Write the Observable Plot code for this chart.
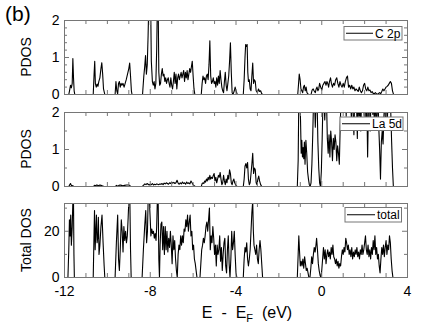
<!DOCTYPE html>
<html><head><meta charset="utf-8">
<script src="https://cdn.jsdelivr.net/npm/d3@7"></script>
<script src="https://cdn.jsdelivr.net/npm/@observablehq/plot@0.6"></script>
<style>
body{margin:0;background:#fff;}
#chart{width:436px;height:332px;font-family:"Liberation Sans",Arial,Helvetica,sans-serif;}
#chart svg{display:block;}
</style></head><body><div id="chart"></div>
<script>
// ---- data: [E - E_F (eV), DOS] ----
const c2p = [[-12,0],[-11.8,0],[-11.76,0.12],[-11.72,0.25],[-11.68,0.18],[-11.64,0.3],[-11.61,0.97],[-11.58,0.45],[-11.55,0.1],[-11.52,0],
[-10.66,0],[-10.62,0.55],[-10.59,0.9],[-10.56,0.3],[-10.52,0.2],[-10.48,0.28],[-10.44,0.22],[-10.4,0.35],[-10.35,0.45],[-10.3,0.7],[-10.26,0.86],[-10.22,0.55],[-10.18,0.15],[-10.12,0],
[-9.64,0],[-9.6,0.35],[-9.56,0.1],[-9.52,0.02],[-9.48,0.3],[-9.44,0.35],[-9.4,0.2],[-9.36,0.3],[-9.32,0.25],[-9.27,0.3],[-9.22,0.2],[-9.17,0.3],[-9.12,0.4],[-9.06,0.55],[-9.0,0.7],[-8.96,0.85],[-8.92,0.5],[-8.88,0.1],[-8.85,0],
[-8.36,0],[-8.3,0.5],[-8.26,0.75],[-8.22,1.05],[-8.18,0.55],[-8.14,0.8],[-8.1,1.6],[-8.07,2.4],[-8.02,2.4],[-7.98,2.4],[-7.95,0.9],[-7.9,0.35],[-7.86,0.25],[-7.82,0.35],[-7.78,0.15],[-7.74,0.3],[-7.7,1.2],[-7.67,2.4],[-7.63,2.4],[-7.6,0.6],[-7.56,0.25],[-7.52,0.3],[-7.48,0.55],[-7.44,0.7],[-7.4,0.5],[-7.36,0.55],[-7.32,0.35],[-7.28,0.45],[-7.24,0.3],[-7.2,0.4],[-7.16,0.45],[-7.12,0.3],[-7.08,0.2],[-7.04,0.45],[-7.0,0.25],[-6.96,0.15],[-6.92,0.35],[-6.88,0.6],[-6.84,0.3],[-6.8,0.55],[-6.76,0.15],[-6.72,0.45],[-6.68,0.55],[-6.64,0.4],[-6.6,0.5],[-6.56,0.6],[-6.52,0.45],[-6.48,0.55],[-6.44,0.65],[-6.4,0.35],[-6.36,0.6],[-6.32,0.45],[-6.28,0.65],[-6.24,0.4],[-6.2,0.55],[-6.16,0.7],[-6.12,0.6],[-6.08,0.75],[-6.04,0.9],[-6.0,0.5],[-5.96,0.15],[-5.92,0],
[-5.62,0],[-5.58,0.3],[-5.54,0.5],[-5.5,0.4],[-5.46,0.45],[-5.42,0.3],[-5.38,0.5],[-5.34,0.55],[-5.3,0.4],[-5.26,0.8],[-5.22,1.45],[-5.18,0.5],[-5.14,0.3],[-5.1,0.35],[-5.06,0.45],[-5.02,0.3],[-4.98,0.35],[-4.94,0.2],[-4.9,0.45],[-4.86,0.25],[-4.82,0.5],[-4.78,0.3],[-4.74,0.65],[-4.7,0.4],[-4.66,0.2],[-4.62,0.1],[-4.58,0.05],[-4.54,0.35],[-4.5,0.6],[-4.46,0.25],[-4.42,0.1],[-4.38,0.3],[-4.34,0.5],[-4.3,0.9],[-4.26,1.4],[-4.22,0.6],[-4.18,0.05],[-4.14,0],[-4.08,0.1],[-4.04,0.2],[-4.0,0.1],[-3.94,0],
[-3.66,0],[-3.62,0.4],[-3.58,1.0],[-3.55,1.35],[-3.52,1.3],[-3.48,1.35],[-3.45,0.6],[-3.42,0.35],[-3.38,0.4],[-3.34,0.15],[-3.3,0.1],[-3.26,0.5],[-3.22,0.85],[-3.18,0.3],[-3.14,0.4],[-3.1,0.35],[-3.06,0.1],[-3.0,0.05],[-2.95,0.15],[-2.9,0.08],[-2.85,0.1],[-2.8,0.02],[-2.75,0],
[-1.12,0],[-1.08,0.3],[-1.05,0.55],[-1.01,0.4],[-0.97,0.15],[-0.93,0.1],[-0.89,0.05],[-0.85,0.2],[-0.81,0.25],[-0.77,0.1],[-0.73,0.2],[-0.69,0.05],[-0.62,0],[-0.5,0],[-0.45,0.12],[-0.4,0.15],[-0.36,0.1],[-0.3,0.05],[-0.26,0.15],[-0.22,0.2],[-0.18,0.1],[-0.14,0.15],[-0.1,0.3],[-0.05,0.2],[0,0.12],[0.05,0.25],[0.1,0.3],[0.15,0.35],[0.2,0.25],[0.24,0.35],[0.28,0.3],[0.32,0.2],[0.36,0.35],[0.41,0.45],[0.45,0.3],[0.5,0.2],[0.55,0.3],[0.6,0.25],[0.65,0.4],[0.7,0.45],[0.75,0.3],[0.8,0.2],[0.85,0.35],[0.9,0.25],[0.95,0.2],[1.0,0.3],[1.05,0.2],[1.1,0.35],[1.15,0.45],[1.2,0.5],[1.25,0.2],[1.3,0.25],[1.35,0.15],[1.4,0.25],[1.45,0.15],[1.5,0.2],[1.55,0.1],[1.6,0.15],[1.65,0.12],[1.7,0.08],[1.75,0.2],[1.8,0.1],[1.85,0.05],[1.9,0.1],[1.95,0.25],[2.0,0.3],[2.05,0.15],[2.1,0.1],[2.15,0.2],[2.2,0.1],[2.25,0.12],[2.3,0.05],[2.35,0.08],[2.4,0.03],[2.45,0.02],[2.5,0.05],[2.55,0.02],[2.6,0.0],[2.65,0.03],[2.7,0.05],[2.75,0.02],[2.8,0.08],[2.85,0.15],[2.9,0.1],[2.95,0.15],[3.0,0.2],[3.05,0.22],[3.1,0.25],[3.15,0.3],[3.2,0.35],[3.25,0.3],[3.3,0.1],[3.35,0],[4,0]];

const la5d = [[-12,0],[-11.8,0],[-11.75,0.05],[-11.72,0.08],[-11.68,0.03],[-11.62,0.02],[-11.55,0],
[-10.65,0],[-10.6,0.03],[-10.55,0.02],[-10.5,0.04],[-10.45,0.03],[-10.4,0.02],[-10.35,0.04],[-10.3,0.03],[-10.25,0.02],[-10.15,0],
[-9.62,0],[-9.58,0.03],[-9.52,0.01],[-9.46,0.03],[-9.4,0.04],[-9.34,0.03],[-9.28,0.02],[-9.2,0.03],[-9.1,0.04],[-9.0,0.04],[-8.9,0],
[-8.38,0],[-8.32,0.03],[-8.25,0.07],[-8.2,0.05],[-8.15,0.08],[-8.1,0.06],[-8.05,0.04],[-8.0,0.06],[-7.95,0.05],[-7.9,0.08],[-7.85,0.04],[-7.8,0.06],[-7.75,0.05],[-7.7,0.07],[-7.65,0.06],[-7.6,0.05],[-7.55,0.07],[-7.5,0.06],[-7.45,0.08],[-7.4,0.05],[-7.35,0.09],[-7.3,0.07],[-7.25,0.1],[-7.2,0.08],[-7.15,0.06],[-7.1,0.1],[-7.05,0.08],[-7.0,0.12],[-6.95,0.09],[-6.9,0.11],[-6.85,0.08],[-6.8,0.1],[-6.75,0.17],[-6.7,0.09],[-6.65,0.06],[-6.6,0.1],[-6.55,0.07],[-6.5,0.12],[-6.45,0.08],[-6.4,0.1],[-6.35,0.06],[-6.3,0.12],[-6.25,0.08],[-6.2,0.1],[-6.15,0.07],[-6.1,0.15],[-6.05,0.1],[-6.0,0.05],[-5.95,0.02],[-5.9,0],
[-5.62,0],[-5.58,0.08],[-5.54,0.1],[-5.5,0.08],[-5.46,0.15],[-5.42,0.12],[-5.38,0.2],[-5.34,0.15],[-5.3,0.25],[-5.26,0.18],[-5.22,0.3],[-5.18,0.2],[-5.14,0.25],[-5.1,0.22],[-5.06,0.3],[-5.02,0.35],[-4.98,0.15],[-4.94,0.25],[-4.9,0.1],[-4.86,0.2],[-4.82,0.3],[-4.78,0.25],[-4.74,0.38],[-4.7,0.2],[-4.66,0.05],[-4.62,0.1],[-4.58,0.3],[-4.54,0.15],[-4.5,0.05],[-4.46,0.2],[-4.42,0.1],[-4.38,0.3],[-4.34,0.2],[-4.3,0.45],[-4.26,0.35],[-4.22,0.1],[-4.18,0.05],[-4.14,0.15],[-4.1,0.2],[-4.06,0.1],[-4.0,0.03],[-3.95,0],
[-3.66,0],[-3.62,0.2],[-3.58,0.55],[-3.54,0.62],[-3.5,0.5],[-3.46,0.65],[-3.42,0.2],[-3.38,0.05],[-3.34,0.1],[-3.3,0.35],[-3.26,0.6],[-3.22,0.9],[-3.18,0.35],[-3.14,0.5],[-3.1,0.45],[-3.06,0.1],[-3.02,0.05],[-2.98,0.2],[-2.94,0.28],[-2.9,0.15],[-2.85,0.05],[-2.8,0],
[-1.14,0],[-1.1,0.7],[-1.07,2.4],[-1.02,2.4],[-0.99,1.8],[-0.96,0.9],[-0.93,1.25],[-0.9,0.8],[-0.87,1.05],[-0.84,0.75],[-0.81,1.2],[-0.78,0.6],[-0.74,1.25],[-0.7,0.9],[-0.66,0.4],[-0.62,0.2],[-0.58,0.05],[-0.54,0],[-0.5,0.1],[-0.46,0.6],[-0.42,1.4],[-0.38,2.4],[-0.34,2.4],[-0.3,1.6],[-0.26,2.4],[-0.22,2.4],[-0.18,1.2],[-0.14,0.5],[-0.1,0.1],[-0.06,0],[-0.02,0.4],[0.02,1.3],[0.06,2.4],[0.1,2.4],[0.14,1.8],[0.18,2.4],[0.22,2.4],[0.26,1.3],[0.3,0.9],[0.34,1.4],[0.38,0.8],[0.42,1.5],[0.46,1.2],[0.5,0.7],[0.54,1.3],[0.58,1.0],[0.62,1.4],[0.66,1.2],[0.7,0.7],[0.74,1.1],[0.78,0.9],[0.82,0.6],[0.86,1.6],[0.9,2.4],[0.94,2.5],[0.98,2.1],[1.02,2.5],[1.06,2.2],[1.1,2.6],[1.14,1.9],[1.18,2.5],[1.22,2.3],[1.26,2.6],[1.3,2.0],[1.34,2.5],[1.38,1.85],[1.42,2.4],[1.46,2.0],[1.5,1.4],[1.54,2.5],[1.58,2.1],[1.62,2.3],[1.66,1.3],[1.7,2.5],[1.74,1.9],[1.78,2.2],[1.82,1.5],[1.86,2.4],[1.9,2.0],[1.94,2.3],[1.98,1.9],[2.02,2.5],[2.06,1.8],[2.1,2.4],[2.14,0.8],[2.18,2.2],[2.22,2.5],[2.26,1.5],[2.3,2.4],[2.34,2.6],[2.38,1.95],[2.42,2.3],[2.46,1.6],[2.5,2.4],[2.54,1.8],[2.58,1.9],[2.62,2.5],[2.66,1.6],[2.7,1.0],[2.74,0.2],[2.78,1.2],[2.82,1.5],[2.86,1.15],[2.9,1.9],[2.94,2.4],[2.98,1.7],[3.02,2.5],[3.06,1.8],[3.1,2.4],[3.14,2.2],[3.18,2.5],[3.22,2.0],[3.26,1.2],[3.3,0.5],[3.34,0],[4,0]];

const total = [[-12,0],[-11.84,0],[-11.8,12],[-11.77,25],[-11.74,18],[-11.71,27],[-11.68,14],[-11.64,22],[-11.61,33],[-11.58,33],[-11.56,10],[-11.54,0],
[-10.66,0],[-10.62,20],[-10.6,29],[-10.57,12],[-10.54,20],[-10.51,27],[-10.48,15],[-10.44,18],[-10.42,26],[-10.39,10],[-10.35,14],[-10.3,22],[-10.25,27],[-10.2,15],[-10.15,5],[-10.12,0],
[-9.64,0],[-9.58,15],[-9.52,27],[-9.48,8],[-9.44,3],[-9.4,12],[-9.35,25],[-9.31,20],[-9.27,11],[-9.23,22],[-9.19,16],[-9.15,20],[-9.11,15],[-9.07,18],[-9.03,26],[-9.0,33],[-8.95,33],[-8.92,12],[-8.89,0],
[-8.38,0],[-8.32,12],[-8.26,22],[-8.21,29],[-8.17,15],[-8.13,20],[-8.1,33],[-8.04,33],[-8.0,25],[-7.97,18],[-7.93,21],[-7.89,19],[-7.85,20],[-7.81,17],[-7.77,19],[-7.73,16],[-7.7,22],[-7.67,33],[-7.63,33],[-7.6,8],[-7.57,0],[-7.54,14],[-7.5,23],[-7.46,24],[-7.42,12],[-7.38,22],[-7.34,10],[-7.3,22],[-7.26,12],[-7.22,20],[-7.18,11],[-7.14,17],[-7.1,13],[-7.06,20],[-7.02,14],[-6.98,6],[-6.94,18],[-6.9,12],[-6.86,16],[-6.82,8],[-6.78,3],[-6.74,0],[-6.7,10],[-6.66,14],[-6.62,12],[-6.58,18],[-6.54,14],[-6.5,18],[-6.46,15],[-6.42,21],[-6.38,20],[-6.34,25],[-6.3,22],[-6.26,27],[-6.22,20],[-6.18,24],[-6.14,27],[-6.1,18],[-6.06,20],[-6.02,12],[-5.98,14],[-5.94,8],[-5.9,6],[-5.86,3],[-5.82,0],
[-5.68,0],[-5.64,6],[-5.6,12],[-5.56,14],[-5.52,17],[-5.48,15],[-5.44,18],[-5.4,22],[-5.36,24],[-5.32,20],[-5.28,25],[-5.24,30],[-5.2,12],[-5.16,18],[-5.12,15],[-5.08,22],[-5.04,17],[-5.0,10],[-4.96,14],[-4.92,5],[-4.88,14],[-4.84,10],[-4.8,12],[-4.76,18],[-4.72,7],[-4.68,13],[-4.64,3],[-4.6,10],[-4.56,15],[-4.52,17],[-4.48,5],[-4.44,2],[-4.4,12],[-4.36,18],[-4.32,6],[-4.28,0],[-4.24,8],[-4.2,20],[-4.16,12],[-4.12,15],[-4.08,20],[-4.04,10],[-4.0,2],[-3.96,0],
[-3.66,0],[-3.62,8],[-3.58,13],[-3.54,11],[-3.5,15],[-3.46,8],[-3.42,5],[-3.38,8],[-3.34,12],[-3.3,20],[-3.26,28],[-3.22,33],[-3.19,20],[-3.16,14],[-3.12,12],[-3.08,10],[-3.04,14],[-3.0,8],[-2.96,6],[-2.92,12],[-2.88,16],[-2.84,12],[-2.8,6],[-2.76,0],
[-1.14,0],[-1.1,10],[-1.07,18],[-1.04,12],[-1.0,5],[-0.96,7],[-0.92,5],[-0.88,8],[-0.84,4],[-0.8,9],[-0.76,6],[-0.72,3],[-0.68,4],[-0.64,2],[-0.6,0],[-0.55,0],[-0.51,4],[-0.47,9],[-0.43,6],[-0.39,10],[-0.35,13],[-0.31,11],[-0.27,14],[-0.24,17],[-0.2,12],[-0.16,6],[-0.12,3],[-0.08,1],[-0.04,0],[0.0,3],[0.04,8],[0.08,13],[0.12,8],[0.16,12],[0.2,6],[0.24,10],[0.28,12],[0.32,9],[0.36,11],[0.4,8],[0.44,13],[0.48,10],[0.52,14],[0.56,9],[0.6,8],[0.64,6],[0.68,8],[0.72,5],[0.76,7],[0.8,4],[0.84,6],[0.88,5],[0.92,9],[0.96,12],[1.0,10],[1.04,13],[1.08,11],[1.12,17],[1.16,15],[1.2,12],[1.24,14],[1.28,10],[1.32,12],[1.36,9],[1.4,13],[1.44,8],[1.48,11],[1.52,9],[1.56,12],[1.6,10],[1.64,13],[1.68,9],[1.72,11],[1.76,8],[1.8,12],[1.84,10],[1.88,14],[1.92,10],[1.96,12],[2.0,15],[2.04,18],[2.08,12],[2.12,10],[2.16,14],[2.2,9],[2.24,12],[2.28,8],[2.32,13],[2.36,10],[2.4,16],[2.44,12],[2.48,18],[2.52,10],[2.56,13],[2.6,8],[2.64,10],[2.68,5],[2.72,2],[2.76,8],[2.8,13],[2.84,10],[2.88,14],[2.92,9],[2.96,13],[3.0,16],[3.04,10],[3.08,14],[3.12,12],[3.16,18],[3.2,15],[3.24,8],[3.28,3],[3.32,0],[4,0]];

const xDomain = [-12, 4];
const xLabelTicks = [-12, -8, -4, 0, 4];
const xMinorTicks = [-11, -10, -9, -7, -6, -5, -3, -2, -1, 1, 2, 3];
const pdosLabelTicks = [0, 1, 2];
const c2pMinorTicks = [0.2, 0.4, 0.6, 0.8, 1.2, 1.4, 1.6, 1.8];
const la5dMinorTicks = [0.5, 1.5];
const totalLabelTicks = [0, 20];
const totalMinorTicks = [10, 30];
const seriesNames = ["C 2p", "La 5d", "total"];
const yTitles = ["PDOS", "PDOS", "Total DOS"];
const panelTag = "(b)";

// ---- layout ----
const W = 436, ML = 64, MR = 29;
const FRAME = "#767676";
const FONT = "'Liberation Sans', Arial, Helvetica, sans-serif";

function panel(opts) {
  const {data, yDomain, yLabels, yMinor, yTitle, name, height, mt, mb, showX, legendBox} = opts;
  const fh = height - mt - mb, fw = W - ML - MR;
  const marks = [
    Plot.line(data, {x: d => d[0], y: d => d[1], stroke: "#000", strokeWidth: 1.1, clip: true}),
    Plot.frame({stroke: FRAME, strokeWidth: 1}),
    Plot.tickX(xLabelTicks, {x: d => d, insetTop: fh - 5, stroke: FRAME}),
    Plot.tickX(xMinorTicks, {x: d => d, insetTop: fh - 4, stroke: FRAME}),
    Plot.tickX(xLabelTicks, {x: d => d, insetBottom: fh - 5, stroke: FRAME}),
    Plot.tickX(xMinorTicks, {x: d => d, insetBottom: fh - 4, stroke: FRAME}),
    Plot.tickY(yLabels, {y: d => d, insetRight: fw - 5, stroke: FRAME}),
    Plot.tickY(yMinor, {y: d => d, insetRight: fw - 3, stroke: FRAME}),
    Plot.tickY(yLabels, {y: d => d, insetLeft: fw - 5, stroke: FRAME}),
    Plot.tickY(yMinor, {y: d => d, insetLeft: fw - 3, stroke: FRAME}),
    Plot.axisY({ticks: yLabels, tickSize: 0, tickPadding: 5, label: null, fontSize: 14, tickFormat: d => String(d)})
  ];
  if (showX) {
    marks.push(Plot.axisX({ticks: xLabelTicks, tickSize: 0, tickPadding: 9, label: null, fontSize: 14,
      tickFormat: d => d < 0 ? "-" + Math.abs(d) : String(d)}));
  } else {
    marks.push(Plot.axisX({ticks: [], label: null, tickSize: 0}));
  }
  const svg = Plot.plot({
    width: W, height, marginLeft: ML, marginRight: MR, marginTop: mt, marginBottom: mb,
    style: {fontFamily: FONT, fontSize: "14px", color: "#000", background: "#fff", overflow: "visible"},
    x: {domain: xDomain, axis: null},
    y: {domain: yDomain, axis: null},
    marks
  });
  const s = d3.select(svg);
  // y title, rotated
  s.append("text").attr("transform", `translate(30.5,${mt + fh / 2}) rotate(-90)`)
    .attr("text-anchor", "middle").attr("font-size", 14).attr("font-family", FONT).attr("fill", "#000").text(yTitle);
  // legend
  const g = s.append("g");
  const b = legendBox;
  g.append("rect").attr("x", b.x).attr("y", b.y).attr("width", b.w).attr("height", b.h)
    .attr("fill", "#fff").attr("stroke", FRAME).attr("stroke-width", 1);
  g.append("line").attr("x1", b.x + 2).attr("x2", b.x + 2 + b.lw).attr("y1", b.y + b.h / 2).attr("y2", b.y + b.h / 2)
    .attr("stroke", "#000").attr("stroke-width", 1);
  g.append("text").attr("x", b.x + b.lw + 4).attr("y", b.y + b.h / 2 + 4.3).attr("text-anchor", "start")
    .attr("font-size", 12).attr("font-family", FONT).attr("fill", "#000").text(name);
  return svg;
}

const root = document.getElementById("chart");

const p1 = panel({
  data: c2p, yDomain: [0, 2], yLabels: pdosLabelTicks, yMinor: c2pMinorTicks, yTitle: yTitles[0], name: seriesNames[0],
  height: 103, mt: 20, mb: 9, showX: false,
  legendBox: {x: 344, y: 26.5, w: 58, h: 13.5, lw: 27}
});
d3.select(p1).append("text").attr("x", 5).attr("y", 20.5).attr("text-anchor", "start")
  .attr("font-size", 21).attr("font-family", FONT).attr("fill", "#000").text(panelTag);
root.appendChild(p1);
root.appendChild(panel({
  data: la5d, yDomain: [0, 2], yLabels: pdosLabelTicks, yMinor: la5dMinorTicks, yTitle: yTitles[1], name: seriesNames[1],
  height: 91, mt: 9, mb: 8, showX: false,
  legendBox: {x: 340, y: 14, w: 63, h: 13.5, lw: 28}
}));
const p3 = panel({
  data: total, yDomain: [0, 32], yLabels: totalLabelTicks, yMinor: totalMinorTicks, yTitle: yTitles[2], name: seriesNames[2],
  height: 138, mt: 9, mb: 55, showX: true,
  legendBox: {x: 345, y: 13.5, w: 56.5, h: 14.5, lw: 28}
});
const xt = d3.select(p3).append("text").attr("x", 247).attr("y", 124).attr("text-anchor", "middle")
  .attr("font-size", 16).attr("font-family", FONT).attr("fill", "#000");
xt.append("tspan").text("E\u00a0\u00a0-\u00a0\u00a0E");
xt.append("tspan").attr("font-size", 11).attr("dy", 4).text("F");
xt.append("tspan").attr("dy", -4).text("\u00a0\u00a0(eV)");
root.appendChild(p3);
</script></body></html>
